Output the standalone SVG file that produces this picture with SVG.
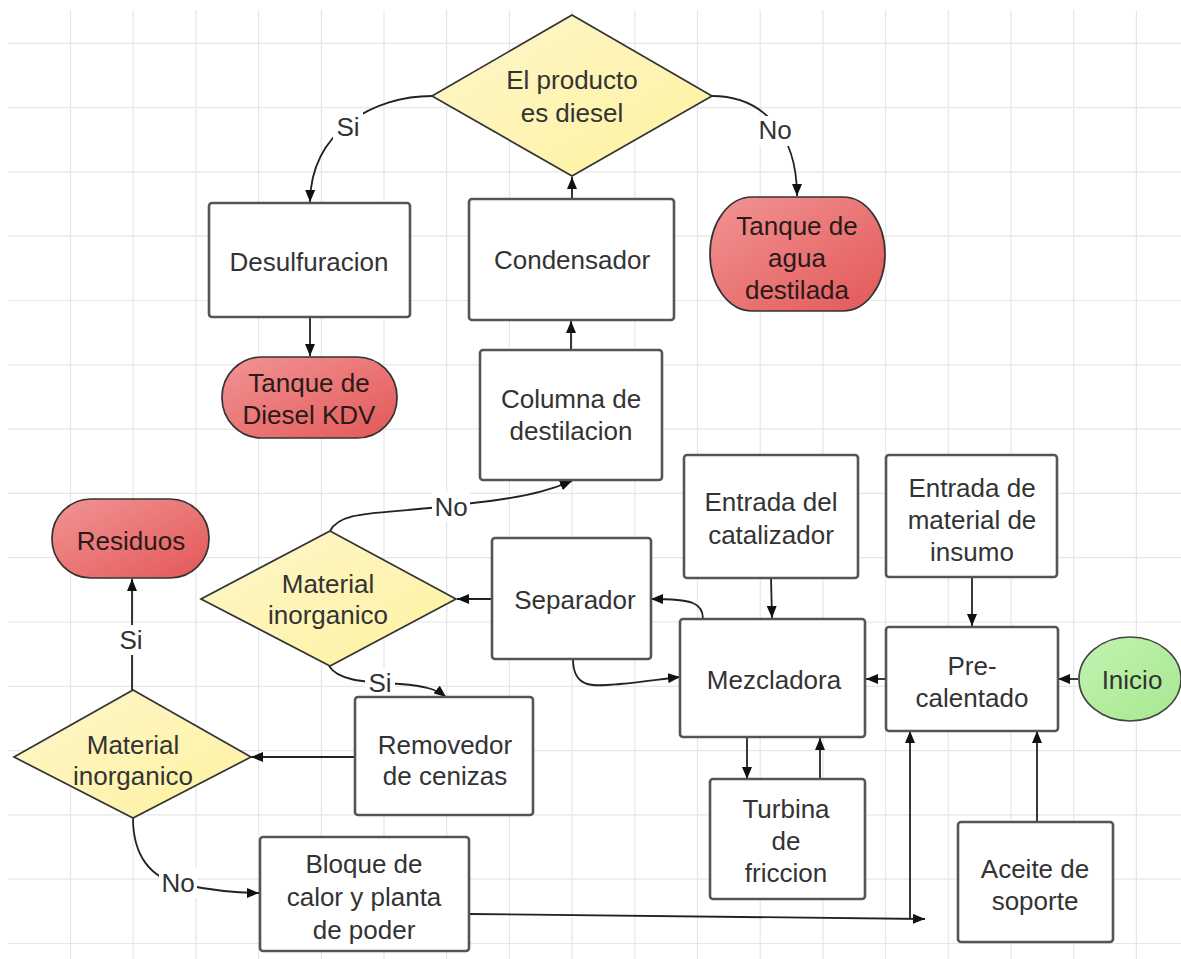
<svg xmlns="http://www.w3.org/2000/svg" width="1181" height="959" viewBox="0 0 1181 959">
<defs>
  <linearGradient id="gYellow" x1="0" y1="0" x2="1" y2="1">
    <stop offset="0" stop-color="#fdf6cc"/>
    <stop offset="1" stop-color="#fff29e"/>
  </linearGradient>
  <linearGradient id="gRed" x1="0" y1="0" x2="1" y2="1">
    <stop offset="0" stop-color="#f29494"/>
    <stop offset="1" stop-color="#e35858"/>
  </linearGradient>
  <linearGradient id="gGreen" x1="0" y1="0" x2="1" y2="1">
    <stop offset="0" stop-color="#c2f2b2"/>
    <stop offset="1" stop-color="#a6e98f"/>
  </linearGradient>
  <marker id="arr" viewBox="0 0 12 10" refX="12" refY="5" markerWidth="12" markerHeight="10" markerUnits="userSpaceOnUse" orient="auto">
    <path d="M0,0 L12,5 L0,10 z" fill="#111"/>
  </marker>
  <style>
    .grid line { stroke: #e6e6e6; stroke-width: 1.2; }
    .box { fill: #ffffff; stroke: #555555; stroke-width: 2.6; }
    .dia { fill: url(#gYellow); stroke: #333333; stroke-width: 1.7; }
    .term { fill: url(#gRed); stroke: #333333; stroke-width: 1.7; }
    .start { fill: url(#gGreen); stroke: #444444; stroke-width: 1.7; }
    text { font-family: "Liberation Sans", Arial, sans-serif; font-size: 26px; fill: #333333; text-anchor: middle; }
    .dark { fill: #2a1a1a; }
    .conn path { fill: none; stroke: #222222; stroke-width: 1.8; marker-end: url(#arr); }
    .lbl { fill: #ffffff; stroke: none; }
  </style>
</defs>

<rect x="0" y="0" width="1181" height="959" fill="#ffffff"/>

<g class="grid">
  <line x1="8" y1="43.3" x2="1181" y2="43.3"/>
  <line x1="8" y1="107.6" x2="1181" y2="107.6"/>
  <line x1="8" y1="171.9" x2="1181" y2="171.9"/>
  <line x1="8" y1="236.2" x2="1181" y2="236.2"/>
  <line x1="8" y1="300.5" x2="1181" y2="300.5"/>
  <line x1="8" y1="364.8" x2="1181" y2="364.8"/>
  <line x1="8" y1="429.1" x2="1181" y2="429.1"/>
  <line x1="8" y1="493.4" x2="1181" y2="493.4"/>
  <line x1="8" y1="557.7" x2="1181" y2="557.7"/>
  <line x1="8" y1="622" x2="1181" y2="622"/>
  <line x1="8" y1="686.3" x2="1181" y2="686.3"/>
  <line x1="8" y1="750.6" x2="1181" y2="750.6"/>
  <line x1="8" y1="814.9" x2="1181" y2="814.9"/>
  <line x1="8" y1="879.2" x2="1181" y2="879.2"/>
  <line x1="8" y1="943.5" x2="1181" y2="943.5"/>
  <line x1="70.5" y1="10" x2="70.5" y2="959"/>
  <line x1="133.2" y1="10" x2="133.2" y2="959"/>
  <line x1="195.9" y1="10" x2="195.9" y2="959"/>
  <line x1="258.6" y1="10" x2="258.6" y2="959"/>
  <line x1="321.3" y1="10" x2="321.3" y2="959"/>
  <line x1="384" y1="10" x2="384" y2="959"/>
  <line x1="446.7" y1="10" x2="446.7" y2="959"/>
  <line x1="509.4" y1="10" x2="509.4" y2="959"/>
  <line x1="572.1" y1="10" x2="572.1" y2="959"/>
  <line x1="634.8" y1="10" x2="634.8" y2="959"/>
  <line x1="697.5" y1="10" x2="697.5" y2="959"/>
  <line x1="760.2" y1="10" x2="760.2" y2="959"/>
  <line x1="822.9" y1="10" x2="822.9" y2="959"/>
  <line x1="885.6" y1="10" x2="885.6" y2="959"/>
  <line x1="948.3" y1="10" x2="948.3" y2="959"/>
  <line x1="1011" y1="10" x2="1011" y2="959"/>
  <line x1="1073.7" y1="10" x2="1073.7" y2="959"/>
  <line x1="1136.4" y1="10" x2="1136.4" y2="959"/>
</g>

<g id="connectors" class="conn">
  <path d="M432,96 C375,96 311,130 310,202"/>
  <path d="M712,96 C760,96 797,130 797,196"/>
  <path d="M572,199 L572,177"/>
  <path d="M310,318 L310,356"/>
  <path d="M571,350 L571,321"/>
  <path d="M330,531 C340,512 370,514 430,508 L490,501 C535,495 555,488 572,481"/>
  <path d="M492,599 L457,599"/>
  <path d="M703,619 C703,603 693,599 651,599"/>
  <path d="M573,659 C573,690 595,686 620,684 C645,682 660,679 680,677"/>
  <path d="M329,666 C338,680 360,682 400,684 C425,686 436,689 446,697"/>
  <path d="M355,757 L251,757"/>
  <path d="M132,690 L132,579"/>
  <path d="M133,818 C133,855 150,878 180,884 C210,890 235,893 259,893"/>
  <path d="M469,914 L925,919"/>
  <path d="M910,919 L910,731"/>
  <path d="M771,578 L772,618"/>
  <path d="M972,577 L972,626"/>
  <path d="M886,679 L866,679"/>
  <path d="M1078,679 L1058,679"/>
  <path d="M747,738 L747,779"/>
  <path d="M820,779 L820,738"/>
  <path d="M1037,822 L1037,731"/>
  <rect class="lbl" x="333" y="112" width="30" height="30"/>
  <text x="348" y="136">Si</text>
  <rect class="lbl" x="757" y="116" width="36" height="30"/>
  <text x="775" y="139">No</text>
  <rect class="lbl" x="432" y="492" width="38" height="30"/>
  <text x="451" y="516">No</text>
  <rect class="lbl" x="365" y="669" width="30" height="30"/>
  <text x="380" y="692">Si</text>
  <rect class="lbl" x="116" y="625" width="30" height="30"/>
  <text x="131" y="649">Si</text>
  <rect class="lbl" x="159" y="868" width="38" height="30"/>
  <text x="178" y="892">No</text>
</g>

<g id="n-diesel-q">
  <polygon class="dia" points="572,15 712,96 572,176 432,96"/>
  <text x="572" y="89">El producto</text>
  <text x="572" y="122">es diesel</text>
</g>
<g id="n-desulfuracion">
  <rect class="box" x="209" y="203" width="201" height="114" rx="3"/>
  <text x="309" y="271">Desulfuracion</text>
</g>
<g id="n-condensador">
  <rect class="box" x="469" y="199" width="205" height="121" rx="3"/>
  <text x="572" y="269">Condensador</text>
</g>
<g id="n-agua">
  <rect class="term" x="710" y="197" width="175" height="114" rx="42" ry="57"/>
  <text class="dark" x="797" y="235">Tanque de</text>
  <text class="dark" x="797" y="267">agua</text>
  <text class="dark" x="797" y="299">destilada</text>
</g>
<g id="n-kdv">
  <rect class="term" x="222" y="357" width="175" height="81" rx="40" ry="40"/>
  <text class="dark" x="309" y="392">Tanque de</text>
  <text class="dark" x="309" y="424">Diesel KDV</text>
</g>
<g id="n-columna">
  <rect class="box" x="480" y="350" width="182" height="130" rx="3"/>
  <text x="571" y="408">Columna de</text>
  <text x="571" y="440">destilacion</text>
</g>
<g id="n-residuos">
  <rect class="term" x="52" y="499" width="157" height="79" rx="39" ry="39"/>
  <text class="dark" x="131" y="550">Residuos</text>
</g>
<g id="n-mat-inorg-1">
  <polygon class="dia" points="330,531 456,599 330,666 201,599"/>
  <text x="328" y="593">Material</text>
  <text x="328" y="624">inorganico</text>
</g>
<g id="n-separador">
  <rect class="box" x="492" y="538" width="159" height="121" rx="3"/>
  <text x="575" y="609">Separador</text>
</g>
<g id="n-mat-inorg-2">
  <polygon class="dia" points="133,690 251,757 133,818 14,757"/>
  <text x="133" y="754">Material</text>
  <text x="133" y="785">inorganico</text>
</g>
<g id="n-removedor">
  <rect class="box" x="355" y="697" width="178" height="118" rx="3"/>
  <text x="445" y="754">Removedor</text>
  <text x="445" y="785">de cenizas</text>
</g>
<g id="n-bloque">
  <rect class="box" x="260" y="837" width="209" height="114" rx="3"/>
  <text x="364" y="873">Bloque de</text>
  <text x="364" y="906">calor y planta</text>
  <text x="364" y="939">de poder</text>
</g>
<g id="n-catalizador">
  <rect class="box" x="684" y="455" width="174" height="123" rx="3"/>
  <text x="771" y="511">Entrada del</text>
  <text x="771" y="544">catalizador</text>
</g>
<g id="n-insumo">
  <rect class="box" x="886" y="455" width="171" height="122" rx="3"/>
  <text x="972" y="497">Entrada de</text>
  <text x="972" y="529">material de</text>
  <text x="972" y="561">insumo</text>
</g>
<g id="n-mezcladora">
  <rect class="box" x="680" y="619" width="185" height="118" rx="3"/>
  <text x="774" y="689">Mezcladora</text>
</g>
<g id="n-precalentado">
  <rect class="box" x="886" y="627" width="172" height="104" rx="3"/>
  <text x="972" y="675">Pre-</text>
  <text x="972" y="707">calentado</text>
</g>
<g id="n-inicio">
  <ellipse class="start" cx="1130" cy="679" rx="51" ry="42"/>
  <text x="1132" y="689">Inicio</text>
</g>
<g id="n-turbina">
  <rect class="box" x="710" y="779" width="155" height="120" rx="3"/>
  <text x="786" y="818">Turbina</text>
  <text x="786" y="850">de</text>
  <text x="786" y="882">friccion</text>
</g>
<g id="n-aceite">
  <rect class="box" x="958" y="822" width="155" height="120" rx="3"/>
  <text x="1035" y="878">Aceite de</text>
  <text x="1035" y="910">soporte</text>
</g>
</svg>
